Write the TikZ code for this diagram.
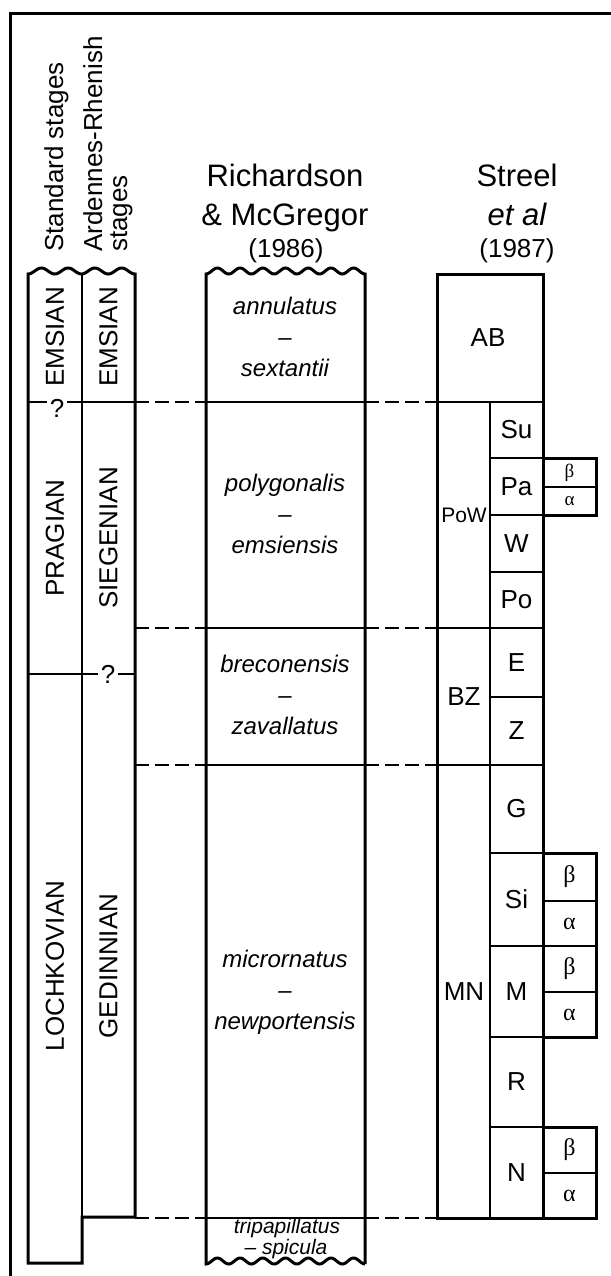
\documentclass[tikz,border=0pt]{standalone}
\usepackage{fontspec}
\setmainfont{Liberation Sans}
\newfontfamily\grkfont{Liberation Serif}
\begin{document}
\begin{tikzpicture}[x=1pt,y=-1pt,
  heavy/.style={line width=3pt, line join=miter},
  medium/.style={line width=2.5pt},
  light/.style={line width=2pt},
  dashline/.style={line width=2pt, dash pattern=on 14pt off 6pt},
  hdr/.style={inner sep=0pt, font=\fontsize{31}{36}\selectfont},
  yr/.style={inner sep=0pt, font=\fontsize{26}{30}\selectfont},
  rothdr/.style={inner sep=0pt, rotate=90, anchor=base west, font=\fontsize{26}{30}\selectfont},
  stage/.style={inner sep=0pt, rotate=90, font=\fontsize{26}{30}\selectfont},
  qmark/.style={inner sep=0pt, anchor=base, font=\fontsize{26}{30}\selectfont},
  zone/.style={inner sep=0pt, anchor=base, font=\fontsize{24}{28}\selectfont\itshape},
  smallzone/.style={inner sep=0pt, anchor=base, font=\fontsize{21}{24}\selectfont\itshape},
  sub/.style={inner sep=0pt, font=\fontsize{26}{30}\selectfont},
  subsmall/.style={inner sep=0pt, font=\fontsize{21}{24}\selectfont},
  grk/.style={inner sep=0pt, font=\fontsize{24}{28}\grkfont},
  grksmall/.style={inner sep=0pt, font=\fontsize{19}{22}\grkfont}
]
\useasboundingbox (0,0) rectangle (610,1276);

% frame
\draw[heavy] (10,1285) -- (10,13.5) -- (620,13.5);

% ---- headers
\node[rothdr] (hstd) at (63,252) {Standard stages};
\node[rothdr] (hard1) at (102,252) {Ardennes-Rhenish};
\node[rothdr] (hard2) at (127,252) {stages};

\node[hdr, anchor=base] (hr1) at (285,186) {Richardson};
\node[hdr, anchor=base] (hr2) at (285,225) {\& McGregor};
\node[yr, anchor=base] (hr3) at (286,257) {(1986)};

\node[hdr, anchor=base] (hs1) at (517,186) {Streel};
\node[hdr, anchor=base] (hs2) at (517,225) {\itshape et al};
\node[yr, anchor=base] (hs3) at (517,257) {(1987)};

% ---- stage columns
\draw[light] (82,274) -- (82,1217);
\draw[heavy] (28,1263) -- (28,274)
  -- plot[domain=28:135, samples=121] (\x,{271+3*cos(13.458*(\x-28))})
  -- (135,1217) -- (82,1217) -- (82,1263) -- cycle;

\node[stage] (s1) at (55,337) {EMSIAN};
\node[stage] (s2) at (55,538) {PRAGIAN};
\node[stage] (s3) at (55,966) {LOCHKOVIAN};
\node[stage] (a1) at (108.5,337) {EMSIAN};
\node[stage] (a2) at (108.5,538) {SIEGENIAN};
\node[stage] (a3) at (108.5,966) {GEDINNIAN};

% uncertain boundaries
\node[qmark] (q1) at (57,417) {?};
\draw[light] (28,402) -- (47,402);
\draw[light] (67,402) -- (135,402);
\node[qmark] (q2) at (108,683) {?};
\draw[light] (28,674) -- (98,674);
\draw[light] (118,674) -- (135,674);

% ---- Richardson & McGregor column
\draw[heavy] (206,1264) -- (206,274)
  -- plot[domain=206:365, samples=161] (\x,{271+3*cos(15.849*(\x-206))})
  -- (365,1264)
  -- plot[domain=365:206, samples=161] (\x,{1261+3*cos(15.849*(\x-206))})
  -- cycle;
\foreach \yy in {402,628,765,1218}
  \draw[medium] (206,\yy) -- (365,\yy);

\node[zone] (r1a) at (285,314) {annulatus};
\node[zone] (r1b) at (285,345) {–};
\node[zone] (r1c) at (285,376) {sextantii};
\node[zone] (r2a) at (285,491) {polygonalis};
\node[zone] (r2b) at (285,522) {–};
\node[zone] (r2c) at (285,553) {emsiensis};
\node[zone] (r3a) at (285,672.5) {breconensis};
\node[zone] (r3b) at (285,703.5) {–};
\node[zone] (r3c) at (285,734.5) {zavallatus};
\node[zone] (r4a) at (285,967) {micrornatus};
\node[zone] (r4b) at (285,998) {–};
\node[zone] (r4c) at (285,1029) {newportensis};
\node[smallzone] (r5a) at (287,1233) {tripapillatus};
\node[smallzone] (r5b) at (286,1254) {– spicula};

% ---- correlation lines
\foreach \yy in {402,628,765,1218} {
  \draw[dashline] (135,\yy) -- (206,\yy);
  \draw[dashline] (365,\yy) -- (437,\yy);
}

% ---- Streel et al. column
\draw[light] (490,402) -- (490,1218);
\foreach \yy in {458,515,572,697,853,946,1037,1127}
  \draw[light] (490,\yy) -- (543,\yy);
\foreach \yy in {402,628,765}
  \draw[medium] (437,\yy) -- (543,\yy);
\foreach \yy in {487,901,946,992,1173}
  \draw[light] (543,\yy) -- (596,\yy);
\draw[heavy] (437,274) rectangle (543,1218);
\draw[heavy] (543,458) rectangle (596,515);
\draw[heavy] (543,853) rectangle (596,1037);
\draw[heavy] (543,1127) rectangle (596,1218);

\node[sub] (zAB) at (488,338) {AB};
\node[subsmall] (zPoW) at (464,515) {PoW};
\node[sub] (zBZ) at (464,697) {BZ};
\node[sub] (zMN) at (464,992) {MN};

\node[sub] (zSu) at (516.5,430) {Su};
\node[sub] (zPa) at (516.5,486.5) {Pa};
\node[sub] (zW) at (516.5,543.5) {W};
\node[sub] (zPo) at (516.5,600) {Po};
\node[sub] (zE) at (516.5,662.5) {E};
\node[sub] (zZ) at (516.5,731) {Z};
\node[sub] (zG) at (516.5,809) {G};
\node[sub] (zSi) at (516.5,899.5) {Si};
\node[sub] (zM) at (516.5,991.5) {M};
\node[sub] (zR) at (516.5,1082) {R};
\node[sub] (zN) at (516.5,1172.5) {N};

\node[grksmall] (paB) at (569.5,472.5) {β};
\node[grksmall] (paA) at (569.5,501) {α};
\node[grk] (siB) at (569.5,877) {β};
\node[grk] (siA) at (569.5,923.5) {α};
\node[grk] (mB) at (569.5,969) {β};
\node[grk] (mA) at (569.5,1014.5) {α};
\node[grk] (nB) at (569.5,1150) {β};
\node[grk] (nA) at (569.5,1195.5) {α};
\end{tikzpicture}
\end{document}
